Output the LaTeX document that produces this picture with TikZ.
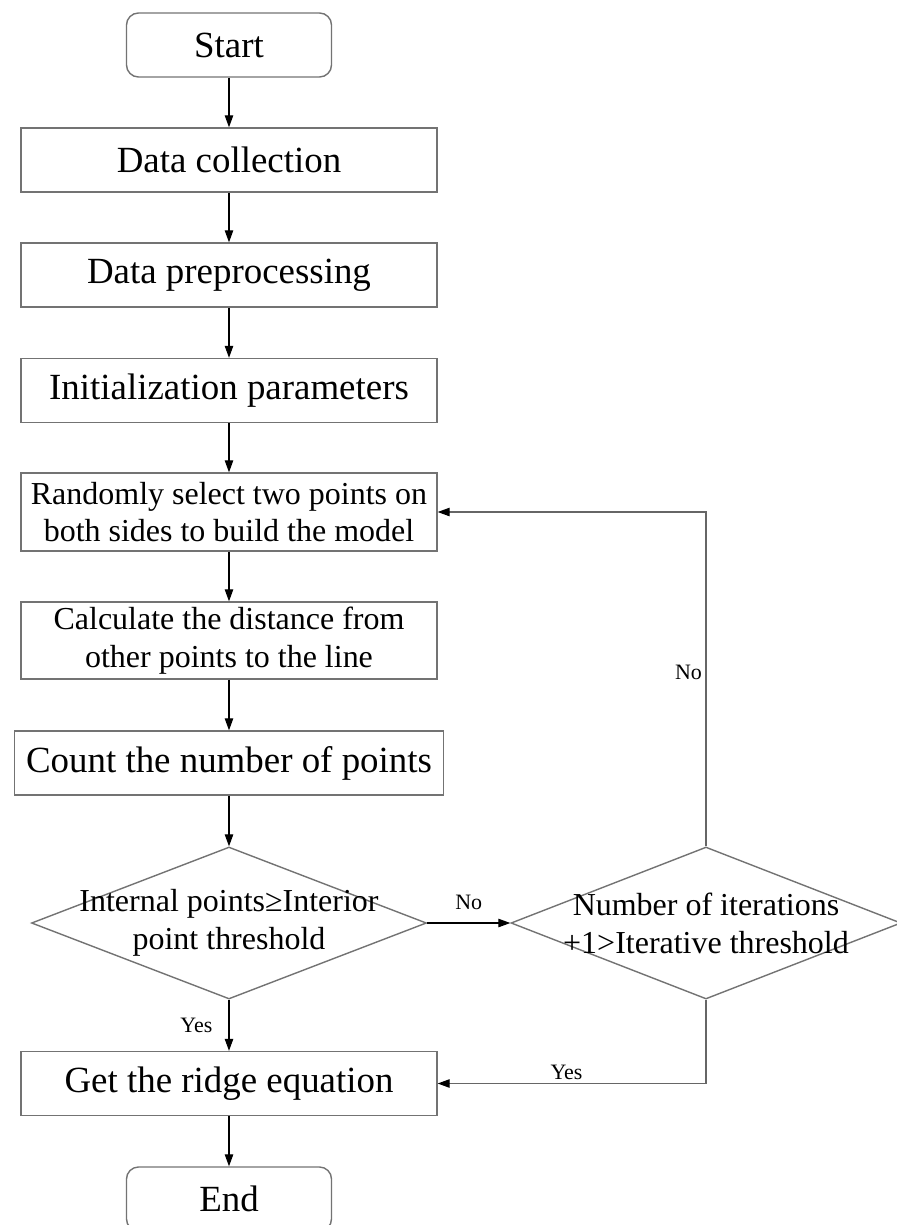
\documentclass[tikz,border=0pt]{standalone}
\usepackage{fontspec}
\setmainfont{Liberation Serif}
\usetikzlibrary{shapes.geometric,arrows.meta}

\begin{document}
\begin{tikzpicture}[
  box/.style={draw=black!55, line width=0.8pt, minimum width=8.32cm, minimum height=1.28cm, inner sep=0pt, font=\fontsize{21}{25}\selectfont},
  twobox/.style={box, minimum height=1.56cm, align=center, font=\fontsize{18.2}{21.5}\selectfont},
  term/.style={box, rounded corners=0.24cm, minimum width=4.1cm},
  decision/.style={diamond, draw=black!55, line width=0.8pt, minimum width=7.9cm, minimum height=3.04cm, inner sep=0pt},
  dtext/.style={align=center, font=\fontsize{18.2}{21.5}\selectfont},
  lbl/.style={font=\fontsize{12.5}{14}\selectfont, inner sep=2pt},
  arr/.style={-{Triangle[length=0.24cm,width=0.17cm,color=black]}, line width=0.6pt}
]

% frame
\useasboundingbox (0,0) rectangle (17.92,-24.5);

% boxes
\node[term] (start) at (4.58,-0.90) {Start};
\node[box] (coll) at (4.58,-3.20) {Data collection};
\node[box] (prep) at (4.58,-5.50) {Data preprocessing};
\node[box] (init) at (4.58,-7.81) {Initialization parameters};
\node[twobox] (sel) at (4.58,-10.24) {Randomly select two points on\\both sides to build the model};
\node[twobox, minimum height=1.54cm] (dist) at (4.58,-12.81) {Calculate the distance from\\other points to the line};
\node[box, minimum width=8.58cm] (count) at (4.58,-15.26) {Count the number of points};
\node[decision] (inl) at (4.58,-18.46) {};
\node[decision, minimum width=7.8cm] (iter) at (14.12,-18.46) {};
\node[box] (ridge) at (4.58,-21.67) {Get the ridge equation};
\node[term] (stop) at (4.58,-23.98) {End};

% texts in the diamonds
\node[dtext] at (inl) {Internal points≥Interior\\point threshold};
\node[dtext] at (iter) {Number of iterations\\+1>Iterative threshold};

% arrows
\draw[arr] (start) -- (coll);
\draw[arr] (coll) -- (prep);
\draw[arr] (prep) -- (init);
\draw[arr] (init) -- (sel);
\draw[arr] (sel) -- (dist);
\draw[arr] (dist) -- (count);
\draw[arr] (count) -- (inl.north);
\draw[arr] (inl.south) -- node[lbl, left=0.25cm] {Yes} (ridge.north);
\draw[arr] (inl.east) -- node[lbl, above=5pt] {No} (iter.west);
\draw[arr, draw=black!60] (iter.north) |- node[lbl, pos=0.26, left] {No} (sel.east);
\draw[arr, draw=black!60] (iter.south) |- node[lbl, pos=0.76, above] {Yes} (ridge.east);
\draw[arr] (ridge) -- (stop);
\end{tikzpicture}
\end{document}
